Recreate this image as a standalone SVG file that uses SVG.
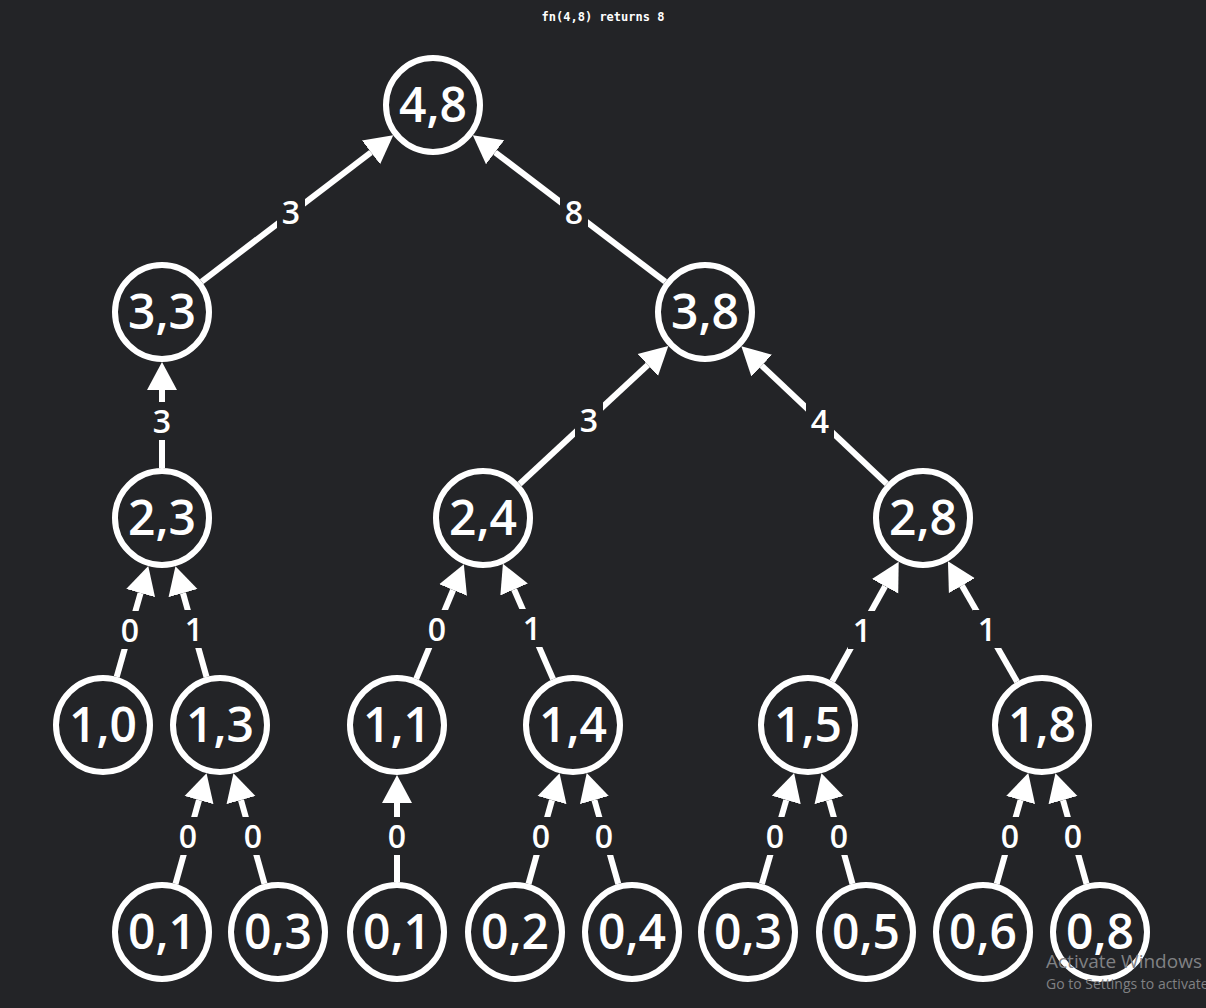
<svg xmlns="http://www.w3.org/2000/svg" width="1206" height="1008" viewBox="0 0 1206 1008">
<style>
.node circle{fill:#232427;stroke:#ffffff;stroke-width:6}
.node text{font-family:"Open Sans","Liberation Sans",sans-serif;font-weight:600;font-size:48px;fill:#ffffff;text-anchor:middle}
.edge line{stroke:#ffffff;stroke-width:6;marker-end:url(#arr)}
.lbl rect{fill:#232427}
.lbl text{font-family:"Open Sans","Liberation Sans",sans-serif;font-weight:600;font-size:32px;fill:#ffffff;text-anchor:middle}
.title{font-family:"DejaVu Sans Mono",monospace;font-weight:700;font-size:12px;fill:#ffffff;text-anchor:middle}
.wm{font-family:"Open Sans","Liberation Sans",sans-serif;fill:#808184}
</style>
<defs>
<marker id="arr" markerUnits="userSpaceOnUse" markerWidth="30" markerHeight="32" refX="0" refY="16" orient="auto" viewBox="0 0 30 32">
<path d="M0,1 L28,16 L0,31 Z" fill="#ffffff"/>
</marker>
</defs>
<rect x="0" y="0" width="1206" height="1008" fill="#232427"/>
<text class="title" x="603" y="21">fn(4,8) returns 8</text>
<g id="connectors">
<g class="edge">
<line x1="201.7" y1="281.6" x2="371" y2="152.3"/>
<line x1="665.2" y1="281.7" x2="495.1" y2="152.3"/>
<line x1="162" y1="468" x2="162" y2="390"/>
<line x1="519.6" y1="484" x2="647.8" y2="365"/>
<line x1="886.7" y1="483.7" x2="761.7" y2="365.6"/>
<line x1="116.7" y1="676.9" x2="140.6" y2="593"/>
<line x1="206.5" y1="676.9" x2="183" y2="593.1"/>
<line x1="416.2" y1="678.9" x2="453.1" y2="590"/>
<line x1="553.1" y1="679.1" x2="514.1" y2="589.5"/>
<line x1="832.3" y1="681.3" x2="885.1" y2="586.2"/>
<line x1="1017.1" y1="681.7" x2="961.9" y2="585.6"/>
<line x1="175.5" y1="883.9" x2="199" y2="800.1"/>
<line x1="264.5" y1="883.9" x2="241" y2="800.1"/>
<line x1="397" y1="882" x2="397" y2="803"/>
<line x1="528.5" y1="883.9" x2="552" y2="800.1"/>
<line x1="618.3" y1="883.9" x2="594.4" y2="800"/>
<line x1="761.9" y1="883.9" x2="786.3" y2="800"/>
<line x1="852.5" y1="883.9" x2="829" y2="800.1"/>
<line x1="996.7" y1="883.9" x2="1020.6" y2="800"/>
<line x1="1086.5" y1="883.9" x2="1063" y2="800.1"/>
</g>
<g class="lbl">
<rect x="277" y="193" width="28" height="38"/><text x="291" y="223.5">3</text>
<rect x="560" y="193" width="28" height="38"/><text x="574" y="223.5">8</text>
<rect x="148" y="402" width="28" height="38"/><text x="162" y="432.5">3</text>
<rect x="575" y="401" width="28" height="38"/><text x="589" y="431.5">3</text>
<rect x="806" y="402" width="28" height="38"/><text x="820" y="432.5">4</text>
<rect x="116" y="611" width="28" height="38"/><text x="130" y="641.5">0</text>
<rect x="180" y="610" width="28" height="38"/><text x="194" y="640.5">1</text>
<rect x="423" y="610" width="28" height="38"/><text x="437" y="640.5">0</text>
<rect x="518" y="609" width="28" height="38"/><text x="532" y="639.5">1</text>
<rect x="848" y="611" width="28" height="38"/><text x="862" y="641.5">1</text>
<rect x="973" y="610" width="28" height="38"/><text x="987" y="640.5">1</text>
<rect x="174" y="817" width="28" height="38"/><text x="188" y="847.5">0</text>
<rect x="239" y="817" width="28" height="38"/><text x="253" y="847.5">0</text>
<rect x="383" y="817" width="28" height="38"/><text x="397" y="847.5">0</text>
<rect x="527" y="817" width="28" height="38"/><text x="541" y="847.5">0</text>
<rect x="590" y="817" width="28" height="38"/><text x="604" y="847.5">0</text>
<rect x="761" y="817" width="28" height="38"/><text x="775" y="847.5">0</text>
<rect x="825" y="817" width="28" height="38"/><text x="839" y="847.5">0</text>
<rect x="996" y="817" width="28" height="38"/><text x="1010" y="847.5">0</text>
<rect x="1059" y="817" width="28" height="38"/><text x="1073" y="847.5">0</text>
</g>
</g>
<g id="n48" class="node"><circle cx="433" cy="105" r="47"/><text x="433" y="122">4,8</text></g>
<g id="n33" class="node"><circle cx="162" cy="312" r="47"/><text x="162" y="329">3,3</text></g>
<g id="n38" class="node"><circle cx="705" cy="312" r="47"/><text x="705" y="329">3,8</text></g>
<g id="n23" class="node"><circle cx="162" cy="518" r="47"/><text x="162" y="535">2,3</text></g>
<g id="n24" class="node"><circle cx="483" cy="518" r="47"/><text x="483" y="535">2,4</text></g>
<g id="n28" class="node"><circle cx="923" cy="518" r="47"/><text x="923" y="535">2,8</text></g>
<g id="n10" class="node"><circle cx="103" cy="725" r="47"/><text x="103" y="742">1,0</text></g>
<g id="n13" class="node"><circle cx="220" cy="725" r="47"/><text x="220" y="742">1,3</text></g>
<g id="n11" class="node"><circle cx="397" cy="725" r="47"/><text x="397" y="742">1,1</text></g>
<g id="n14" class="node"><circle cx="573" cy="725" r="47"/><text x="573" y="742">1,4</text></g>
<g id="n15" class="node"><circle cx="808" cy="725" r="47"/><text x="808" y="742">1,5</text></g>
<g id="n18" class="node"><circle cx="1042" cy="725" r="47"/><text x="1042" y="742">1,8</text></g>
<g id="n01a" class="node"><circle cx="162" cy="932" r="47"/><text x="162" y="949">0,1</text></g>
<g id="n03a" class="node"><circle cx="278" cy="932" r="47"/><text x="278" y="949">0,3</text></g>
<g id="n01b" class="node"><circle cx="397" cy="932" r="47"/><text x="397" y="949">0,1</text></g>
<g id="n02" class="node"><circle cx="515" cy="932" r="47"/><text x="515" y="949">0,2</text></g>
<g id="n04" class="node"><circle cx="632" cy="932" r="47"/><text x="632" y="949">0,4</text></g>
<g id="n03b" class="node"><circle cx="748" cy="932" r="47"/><text x="748" y="949">0,3</text></g>
<g id="n05" class="node"><circle cx="866" cy="932" r="47"/><text x="866" y="949">0,5</text></g>
<g id="n06" class="node"><circle cx="983" cy="932" r="47"/><text x="983" y="949">0,6</text></g>
<g id="n08" class="node"><circle cx="1100" cy="932" r="47"/><text x="1100" y="949">0,8</text></g>
<text class="wm" x="1046" y="968" font-size="19">Activate Windows</text>
<text class="wm" x="1046" y="989" font-size="14">Go to Settings to activate Windows.</text>
</svg>
